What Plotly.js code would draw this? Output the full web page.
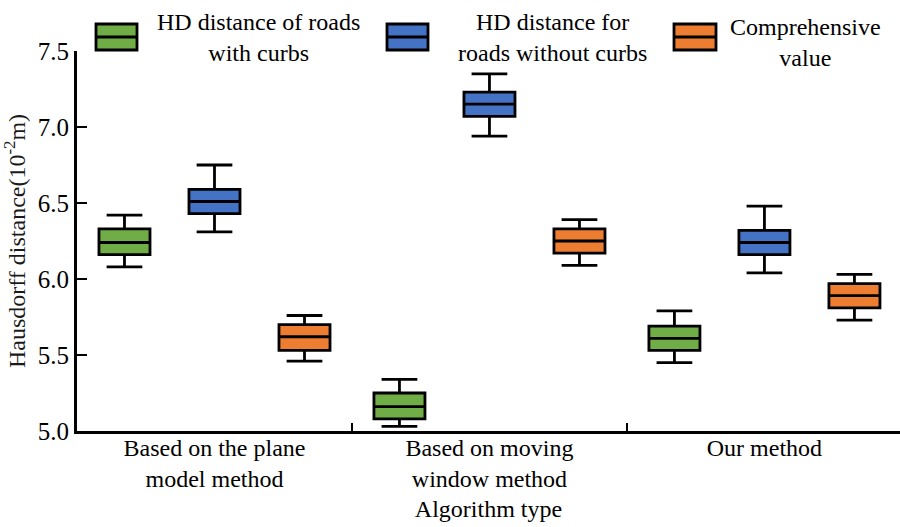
<!DOCTYPE html>
<html>
<head>
<meta charset="utf-8">
<script src="https://cdn.plot.ly/plotly-3.0.1.min.js"></script>
<style>
  html, body { margin: 0; padding: 0; background: #ffffff; }
  #chart { width: 900px; height: 527px; }
</style>
</head>
<body>
<div id="chart"></div>
<script>
// ---------- data ----------
const categories = [
  "Based on the plane<br>model method",
  "Based on moving<br>window method",
  "Our method"
];
const seriesNames = [
  "HD distance of roads<br>with curbs",
  "HD distance for<br>roads without curbs",
  "Comprehensive<br>value"
];

// HD distance of roads with curbs
const curbsLower  = [6.08, 5.03, 5.45];
const curbsQ1     = [6.16, 5.08, 5.53];
const curbsMedian = [6.24, 5.16, 5.61];
const curbsQ3     = [6.33, 5.25, 5.69];
const curbsUpper  = [6.42, 5.34, 5.79];

// HD distance for roads without curbs
const noCurbsLower  = [6.31, 6.94, 6.04];
const noCurbsQ1     = [6.43, 7.07, 6.16];
const noCurbsMedian = [6.51, 7.15, 6.24];
const noCurbsQ3     = [6.59, 7.23, 6.32];
const noCurbsUpper  = [6.75, 7.35, 6.48];

// Comprehensive value
const compLower  = [5.46, 6.09, 5.73];
const compQ1     = [5.53, 6.17, 5.81];
const compMedian = [5.62, 6.25, 5.89];
const compQ3     = [5.70, 6.33, 5.97];
const compUpper  = [5.76, 6.39, 6.03];

const yTickVals = [5.0, 5.5, 6.0, 6.5, 7.0, 7.5];

// ---------- styling ----------
const colors = ["#70ad47", "#4472c4", "#ed7d31"];
const FONT = "'Liberation Serif', 'Times New Roman', Times, serif";

function boxTrace(i, lower, q1, med, q3, upper) {
  return {
    type: "box",
    name: seriesNames[i].replace("<br>", " "),
    x: categories,
    lowerfence: lower,
    q1: q1,
    median: med,
    q3: q3,
    upperfence: upper,
    fillcolor: colors[i],
    line: { color: "#000000", width: 2.8 },
    whiskerwidth: 0.7,
    boxpoints: false,
    showlegend: false
  };
}

const traces = [
  boxTrace(0, curbsLower, curbsQ1, curbsMedian, curbsQ3, curbsUpper),
  boxTrace(1, noCurbsLower, noCurbsQ1, noCurbsMedian, noCurbsQ3, noCurbsUpper),
  boxTrace(2, compLower, compQ1, compMedian, compQ3, compUpper)
];

// plot area in pixels (for placing the custom legend)
const W = 900, H = 527;
const M = { l: 77, r: 0, t: 51, b: 96 };
const pw = W - M.l - M.r, ph = H - M.t - M.b;
const px = x => (x - M.l) / pw;
const py = y => (H - M.b - y) / ph;

// legend: swatches + labels
const legendItems = [
  { x0: 96,  x1: 137, textX: 258, textY: 37 },
  { x0: 387, x1: 428, textX: 552, textY: 37 },
  { x0: 674, x1: 716, textX: 805, textY: 43 }
];
const shapes = [];
const annotations = [];
legendItems.forEach((it, i) => {
  shapes.push({
    type: "rect", xref: "paper", yref: "paper",
    x0: px(it.x0), x1: px(it.x1), y0: py(50), y1: py(24),
    fillcolor: colors[i], line: { color: "#000000", width: 2.8 }
  });
  shapes.push({
    type: "line", xref: "paper", yref: "paper",
    x0: px(it.x0), x1: px(it.x1), y0: py(37), y1: py(37),
    line: { color: "#000000", width: 2.8 }
  });
  annotations.push({
    xref: "paper", yref: "paper",
    x: px(it.textX), y: py(it.textY),
    xanchor: "center", yanchor: "middle",
    text: seriesNames[i], showarrow: false, align: "center",
    font: { family: FONT, size: 24, color: "#000000" }
  });
});

const layout = {
  width: W, height: H,
  margin: M,
  paper_bgcolor: "#ffffff",
  plot_bgcolor: "#ffffff",
  font: { family: FONT, size: 24, color: "#000000" },
  showlegend: false,
  boxmode: "group",
  boxgap: 0.018,
  boxgroupgap: 0.433,
  xaxis: {
    type: "category",
    range: [-0.5, 2.493],
    showline: true, linecolor: "#000000", linewidth: 3,
    showgrid: false, zeroline: false,
    ticks: "inside", tickson: "boundaries", ticklen: 8, tickwidth: 2.5, tickcolor: "#000000",
    tickfont: { family: FONT, size: 24, color: "#000000" },
    ticklabelstandoff: -7,
    automargin: false,
    title: { text: "Algorithm type", font: { family: FONT, size: 24, color: "#000000" }, standoff: 10 }
  },
  yaxis: {
    range: [5, 7.5],
    tickvals: yTickVals,
    tickformat: ".1f",
    showline: true, linecolor: "#000000", linewidth: 3,
    showgrid: false, zeroline: false,
    ticks: "inside", ticklen: 10, tickwidth: 2.5, tickcolor: "#000000",
    tickfont: { family: FONT, size: 25, color: "#000000" },
    automargin: false,
    title: { text: "Hausdorff distance(10<sup>-2</sup>m)", font: { family: FONT, size: 24, color: "#1a1a1a" }, standoff: 6 }
  },
  shapes: shapes,
  annotations: annotations
};

Plotly.newPlot("chart", traces, layout, { displayModeBar: false, staticPlot: true });
</script>
</body>
</html>
